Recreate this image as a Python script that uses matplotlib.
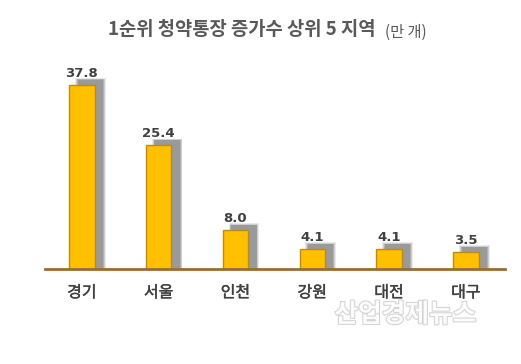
import matplotlib.pyplot as plt
import matplotlib.patheffects as pe

plt.rcParams['font.family'] = ['Noto Sans CJK KR', 'DejaVu Sans']

regions = ["경기", "서울", "인천", "강원", "대전", "대구"]
counts = [37.8, 25.4, 8.0, 4.1, 4.1, 3.5]
labels = ["37.8", "25.4", "8.0", "4.1", "4.1", "3.5"]

fig = plt.figure(figsize=(5.21, 3.64), dpi=100)
ax = fig.add_axes([0.0864, 0.261, 0.883, 0.536])

x = list(range(len(regions)))
width = 0.33

# soft drop shadow, built from a few faint layers
for i, grow in enumerate([0.07, 0.045, 0.02, 0.0]):
    ax.bar([v + 0.11 for v in x], [c + 1.0 + grow * 10 for c in counts],
           width=width + grow, bottom=-grow * 5, color="#7f7f7f",
           alpha=0.16 + 0.1 * i, linewidth=0, zorder=1)

ax.bar(x, counts, width=width, color="#FFC000", edgecolor="#C08A10",
       linewidth=1, zorder=3)

for xi, c, lab in zip(x, counts, labels):
    ax.text(xi, c + 1.0, lab, ha="center", va="bottom", fontsize=9.5,
            fontweight="bold", color="#404040", family=["DejaVu Sans"], zorder=4)

ax.set_xlim(-0.48, 5.51)
ax.set_ylim(0, 40)
ax.set_xticks(x)
ax.set_xticklabels(regions, fontsize=11.5, color="#404040")
for t in ax.get_xticklabels():
    t.set_path_effects([pe.withStroke(linewidth=0.3, foreground="#404040")])
ax.tick_params(axis="x", length=0, pad=11)
ax.set_yticks([])
for side in ["top", "right", "left"]:
    ax.spines[side].set_visible(False)
ax.spines["bottom"].set_color("#9C6B30")
ax.spines["bottom"].set_linewidth(2)
ax.spines["bottom"].set_zorder(5)

fig.text(0.72, 0.918, "1순위 청약통장 증가수 상위 5 지역", ha="right", va="center",
         fontsize=13.5, fontweight="bold", color="#595959")
fig.text(0.739, 0.912, "(만 개)", ha="left", va="center", fontsize=11,
         color="#595959")

# watermark
fig.text(0.778, 0.136, "산업경제뉴스", ha="center", va="center", fontsize=18.5,
         fontweight="bold", color="white", alpha=0.9,
         path_effects=[pe.withStroke(linewidth=1.5, foreground="#cfcfcf")])

fig.savefig("out.png", dpi=100)
